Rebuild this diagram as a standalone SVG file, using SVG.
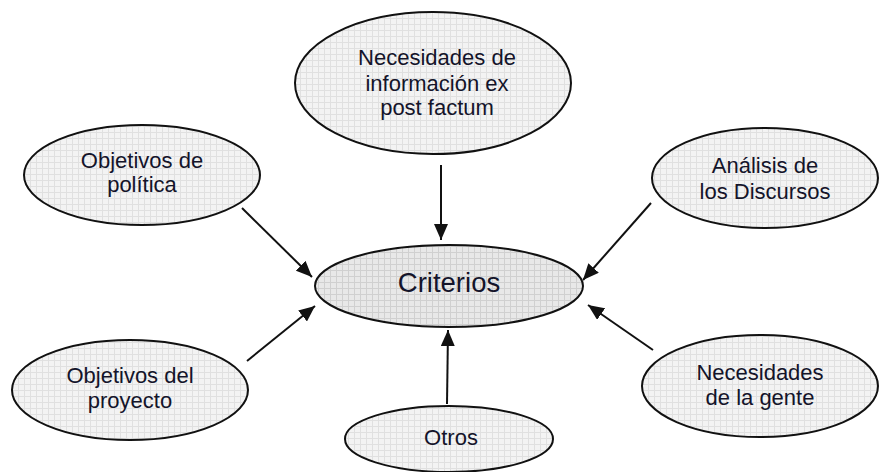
<svg xmlns="http://www.w3.org/2000/svg" width="879" height="472" viewBox="0 0 879 472">
<style>
.n{fill:url(#grid);stroke:#111;stroke-width:2}
.c{fill:url(#grid2);stroke:#111;stroke-width:2}
.t{font-family:"Liberation Sans",Arial,sans-serif;font-size:22px;fill:#14142a;text-anchor:middle}
.tc{font-family:"Liberation Sans",Arial,sans-serif;font-size:27.5px;fill:#14142a;text-anchor:middle}
.a{stroke:#111;stroke-width:2;fill:none;marker-end:url(#ah)}
</style>
<defs>
<pattern id="grid" width="6" height="6" patternUnits="userSpaceOnUse">
<rect width="6" height="6" fill="#f3f3f3"/>
<path d="M0 0.5H6M0.5 0V6" stroke="#e0e0e0" stroke-width="1"/>
</pattern>
<pattern id="grid2" width="6" height="6" patternUnits="userSpaceOnUse">
<rect width="6" height="6" fill="#e8e8e8"/>
<path d="M0 0.5H6M0.5 0V6" stroke="#d0d0d0" stroke-width="1"/>
</pattern>
<marker id="ah" markerUnits="userSpaceOnUse" markerWidth="18" markerHeight="14" refX="16" refY="7" orient="auto">
<path d="M0 0L16 7L0 14z" fill="#111"/>
</marker>
</defs>
<g id="connectors">
<line class="a" x1="441" y1="165" x2="441" y2="240"/>
<line class="a" x1="242" y1="208" x2="312" y2="277"/>
<line class="a" x1="651" y1="203" x2="583" y2="280"/>
<line class="a" x1="247" y1="361" x2="315" y2="306"/>
<line class="a" x1="653" y1="350" x2="588" y2="305"/>
<line class="a" x1="447" y1="404" x2="448" y2="330"/>
</g>
<g id="node-top">
<ellipse class="n" cx="433" cy="83" rx="138" ry="71"/>
<text class="t" x="437" y="65">Necesidades de</text>
<text class="t" x="437" y="91">información ex</text>
<text class="t" x="437" y="115">post factum</text>
</g>
<g id="node-criterios">
<ellipse class="c" cx="449" cy="286" rx="134" ry="41"/>
<text class="tc" x="449" y="292">Criterios</text>
</g>
<g id="node-politica">
<ellipse class="n" cx="142" cy="175" rx="118" ry="50"/>
<text class="t" x="142" y="168">Objetivos de</text>
<text class="t" x="142" y="192">política</text>
</g>
<g id="node-discursos">
<ellipse class="n" cx="765" cy="178" rx="113" ry="50"/>
<text class="t" x="765" y="173">Análisis de</text>
<text class="t" x="765" y="199">los Discursos</text>
</g>
<g id="node-proyecto">
<ellipse class="n" cx="130" cy="390" rx="118" ry="50"/>
<text class="t" x="130" y="383">Objetivos del</text>
<text class="t" x="130" y="408">proyecto</text>
</g>
<g id="node-otros">
<ellipse class="n" cx="449" cy="439" rx="104" ry="33"/>
<text class="t" x="451" y="445">Otros</text>
</g>
<g id="node-gente">
<ellipse class="n" cx="760" cy="386" rx="118" ry="51"/>
<text class="t" x="760" y="380">Necesidades</text>
<text class="t" x="760" y="405">de la gente</text>
</g>
</svg>
